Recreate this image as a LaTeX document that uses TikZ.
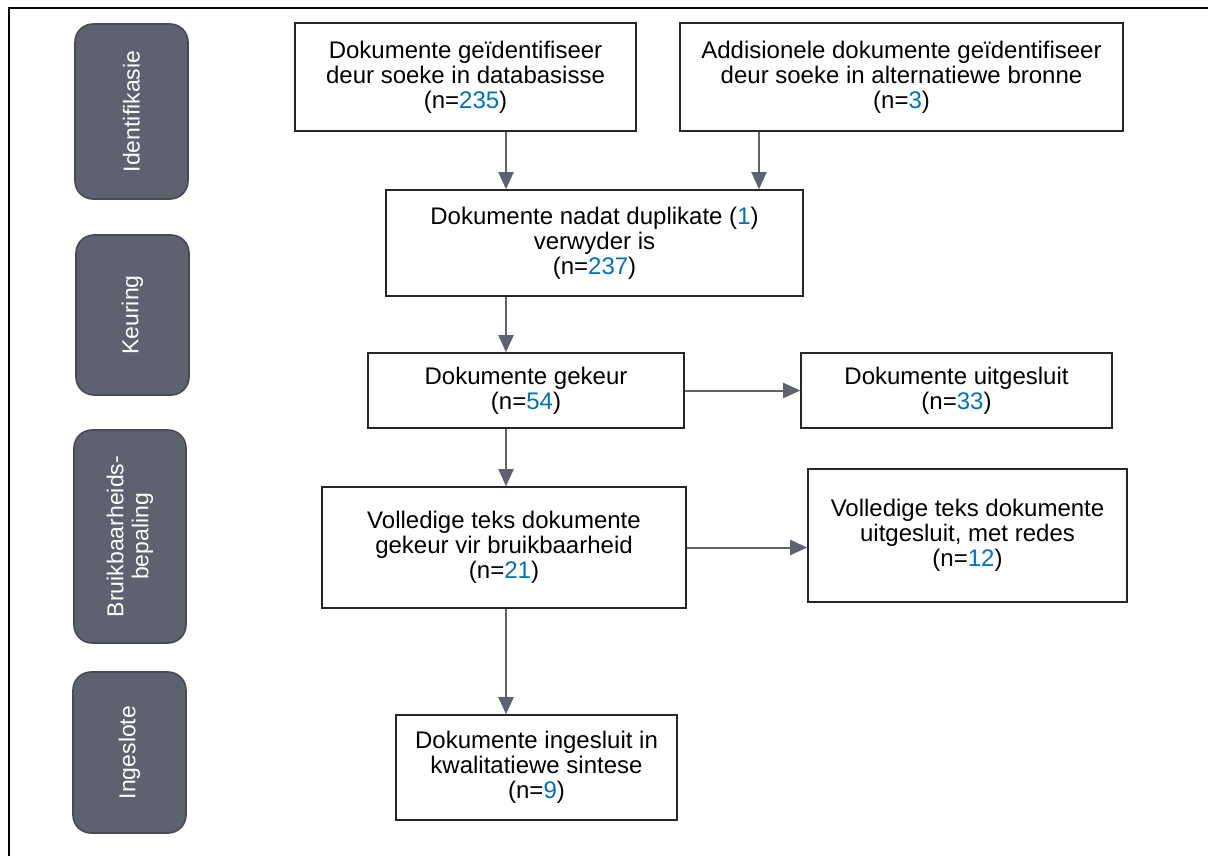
\documentclass[tikz,border=0pt]{standalone}
\usepackage{fontspec}
\setmainfont{Liberation Sans}
\usepackage{xcolor}
\usepackage{tikz}
\usetikzlibrary{arrows.meta}

\definecolor{phasegrey}{HTML}{5E616F}
\definecolor{phaseedge}{HTML}{474A54}
\definecolor{arrowgrey}{HTML}{5E616F}
\definecolor{numblue}{HTML}{0070C0}
\newcommand{\nval}[1]{\textcolor{numblue}{#1}}

\begin{document}
\begin{tikzpicture}[x=0.5pt, y=-0.5pt,
    box/.style={draw=black!85, line width=0.8pt, align=center, inner sep=0pt,
        font=\fontsize{12}{12.5}\selectfont},
    phase/.style={draw=phaseedge, line width=0.8pt, fill=phasegrey, text=white,
        rounded corners=9pt, rotate=90, align=center, inner sep=0pt,
        font=\fontsize{11.5}{12.5}\selectfont},
    arr/.style={draw=arrowgrey, line width=1pt, -{Triangle[length=8.5pt, width=7.5pt]}}]
    % Define dimensions
    \def\px{0.5pt}   % one pixel of the reference

    \useasboundingbox (0,0) rectangle (1208,856);

    % Frame (top and left edge)
    \draw[line width=1pt] (1208,8) -- (9,8) -- (9,856);

    % Phases
    \node[phase, minimum width=175*\px, minimum height=113*\px] (ident) at (131.5,111.5) {Identifikasie};
    \node[phase, minimum width=160*\px, minimum height=113*\px] (keur) at (132.5,315) {Keuring};
    \node[phase, minimum width=213*\px, minimum height=112*\px] (bruik) at (130,536.5) {Bruikbaarheids-\\bepaling};
    \node[phase, minimum width=161*\px, minimum height=113*\px] (inges) at (129.5,752.5) {Ingeslote};

    % Boxes
    \node[box, minimum width=341*\px, minimum height=108*\px] (dbase) at (465.5,77)
        {Dokumente geïdentifiseer\\deur soeke in databasisse\\(n=\nval{235})};
    \node[box, minimum width=443*\px, minimum height=108*\px] (extra) at (901.5,77)
        {Addisionele dokumente geïdentifiseer\\deur soeke in alternatiewe bronne\\(n=\nval{3})};
    \node[box, minimum width=417*\px, minimum height=106*\px] (dupl) at (594.5,243)
        {Dokumente nadat duplikate (\nval{1})\\verwyder is\\(n=\nval{237})};
    \node[box, minimum width=316*\px, minimum height=75*\px] (gekeur) at (526,390.5)
        {Dokumente gekeur\\(n=\nval{54})};
    \node[box, minimum width=311*\px, minimum height=75*\px] (uitg) at (956.5,390.5)
        {Dokumente uitgesluit\\(n=\nval{33})};
    \node[box, minimum width=364*\px, minimum height=121*\px] (voll) at (504,547.5)
        {Volledige teks dokumente\\gekeur vir bruikbaarheid\\(n=\nval{21})};
    \node[box, minimum width=319*\px, minimum height=133*\px] (vuitg) at (967.5,535.5)
        {Volledige teks dokumente\\uitgesluit, met redes\\(n=\nval{12})};
    \node[box, minimum width=281*\px, minimum height=105*\px] (ingl) at (536.5,767.5)
        {Dokumente ingesluit in\\kwalitatiewe sintese\\(n=\nval{9})};

    % Arrow columns
    \coordinate (colA) at (506,0);
    \coordinate (colB) at (759,0);

    % Arrows
    \draw[arr] (dbase.south -| colA) -- (dupl.north -| colA);
    \draw[arr] (extra.south -| colB) -- (dupl.north -| colB);
    \draw[arr] (dupl.south -| colA) -- (gekeur.north -| colA);
    \draw[arr] (gekeur.east) -- (uitg.west);
    \draw[arr] (gekeur.south -| colA) -- (voll.north -| colA);
    \draw[arr] (voll.east) -- (voll.east -| vuitg.west);
    \draw[arr] (voll.south -| colA) -- (ingl.north -| colA);
\end{tikzpicture}
\end{document}
